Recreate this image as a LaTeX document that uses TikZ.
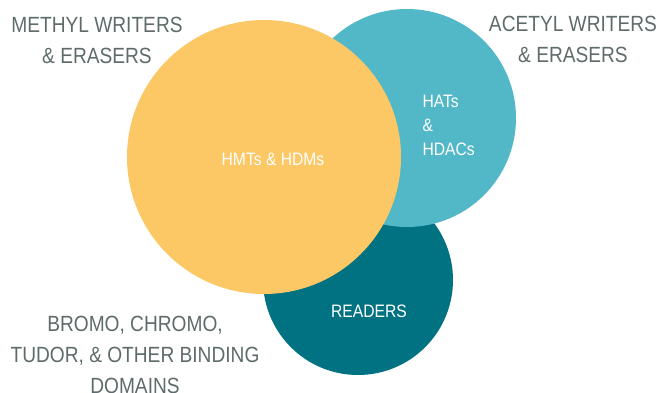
\documentclass[tikz,border=0pt]{standalone}
\usepackage{fontspec}
\setmainfont{Liberation Sans}[FakeStretch=0.87]
\usepackage{tikz}
\usetikzlibrary{positioning}
\usepackage{xcolor}

\definecolor{methylyellow}{HTML}{FCC865}
\definecolor{acetylteal}{HTML}{52B8C7}
\definecolor{readerteal}{HTML}{007282}
\definecolor{labelgray}{HTML}{5F6B6B}

\tikzset{
  disc/.style={circle,inner sep=0pt,draw=none},
  outlabel/.style={text=labelgray,align=center,font=\fontsize{22}{31}\selectfont},
  inlabel/.style={text=white,font=\fontsize{18}{24}\selectfont}
}

\begin{document}
\begin{tikzpicture}[x=1pt,y=-1pt]
\useasboundingbox (0,0) rectangle (661,392);
% circles, back to front
\node[disc,fill=readerteal,minimum size=190pt] (readers) at (358,280) {};
\node[disc,fill=acetylteal,minimum size=218pt] (acetyl) at (407,118) {};
\node[disc,fill=methylyellow,minimum size=274pt] (methyl) at (264,157) {};
% texts inside
\node[inlabel] (hmt) at (273,159) {HMTs \& HDMs};
\node[inlabel,align=left,anchor=west] (hat) at (419,125.5) {HATs\\\&\\HDACs};
\node[inlabel] (rd) at (369,311) {READERS};
% texts outside
\node[outlabel] (methyllab) at (97,40) {METHYL WRITERS\\\& ERASERS};
\node[outlabel] (acetyllab) at (573,39) {ACETYL WRITERS\\\& ERASERS};
\node[outlabel] (readerlab) at (135,355) {BROMO, CHROMO,\\TUDOR, \& OTHER BINDING\\DOMAINS};
\end{tikzpicture}
\end{document}
